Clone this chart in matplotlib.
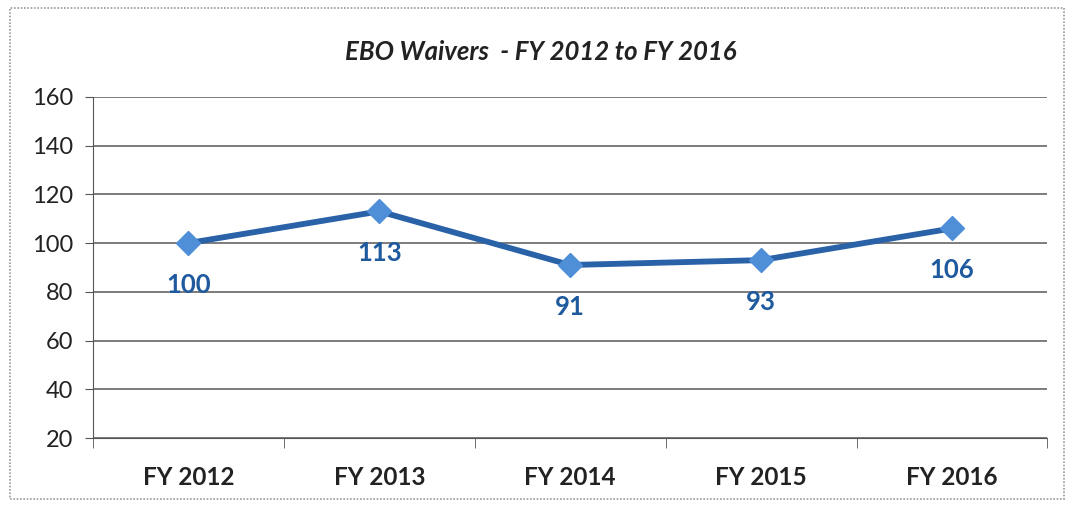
import matplotlib.pyplot as plt
from matplotlib.patches import Rectangle

years = ['FY 2012', 'FY 2013', 'FY 2014', 'FY 2015', 'FY 2016']
waivers = [100, 113, 91, 93, 106]
y_ticks = [20, 40, 60, 80, 100, 120, 140, 160]

plt.rcParams['font.family'] = ['Lato', 'DejaVu Sans']

fig = plt.figure(figsize=(10.70, 5.07), dpi=100)
ax = fig.add_axes([0.0869, 0.136, 0.892, 0.673])

# outer chart border
fig.patches.append(Rectangle((0.009, 0.015), 0.985, 0.97, transform=fig.transFigure,
                             fill=False, edgecolor='#9a9a9a', linewidth=1.2,
                             linestyle=(0, (1, 1))))

x = list(range(len(years)))
ax.plot(x, waivers, color='#2a62a8', linewidth=4.2, marker='D',
        markersize=12, markerfacecolor='#4f8fd8', markeredgecolor='#4f8fd8',
        zorder=3)

for xi, v in zip(x, waivers):
    ax.annotate(str(v), (xi, v), xytext=(0, -30), textcoords='offset points',
                ha='center', va='center', fontsize=18.5, fontweight='bold',
                color='#1f5a9e')

ax.set_ylim(20, 160)
ax.set_xlim(-0.5, len(years) - 0.5)
ax.set_yticks(y_ticks)
ax.tick_params(axis='y', labelsize=17, length=6, color='#555555', pad=8,
               labelcolor='#222222')
ax.set_xticks(x)
ax.set_xticklabels(years, fontsize=17.5, fontweight='bold', color='#222222')
ax.tick_params(axis='x', length=0, pad=20)
ax.set_xticks([i - 0.5 for i in range(len(years) + 1)], minor=True)
ax.tick_params(axis='x', which='minor', length=7, color='#555555')

ax.grid(axis='y', color='#666666', linewidth=1.2)
ax.set_axisbelow(True)
for side in ['top', 'right']:
    ax.spines[side].set_visible(False)
ax.spines['left'].set_color('#555555')
ax.spines['bottom'].set_color('#555555')

fig.text(0.505, 0.897, 'EBO Waivers  - FY 2012 to FY 2016', ha='center', va='center',
         fontsize=18.5, fontweight='bold', fontstyle='italic', color='#222222')

fig.savefig('out.png', dpi=100)
